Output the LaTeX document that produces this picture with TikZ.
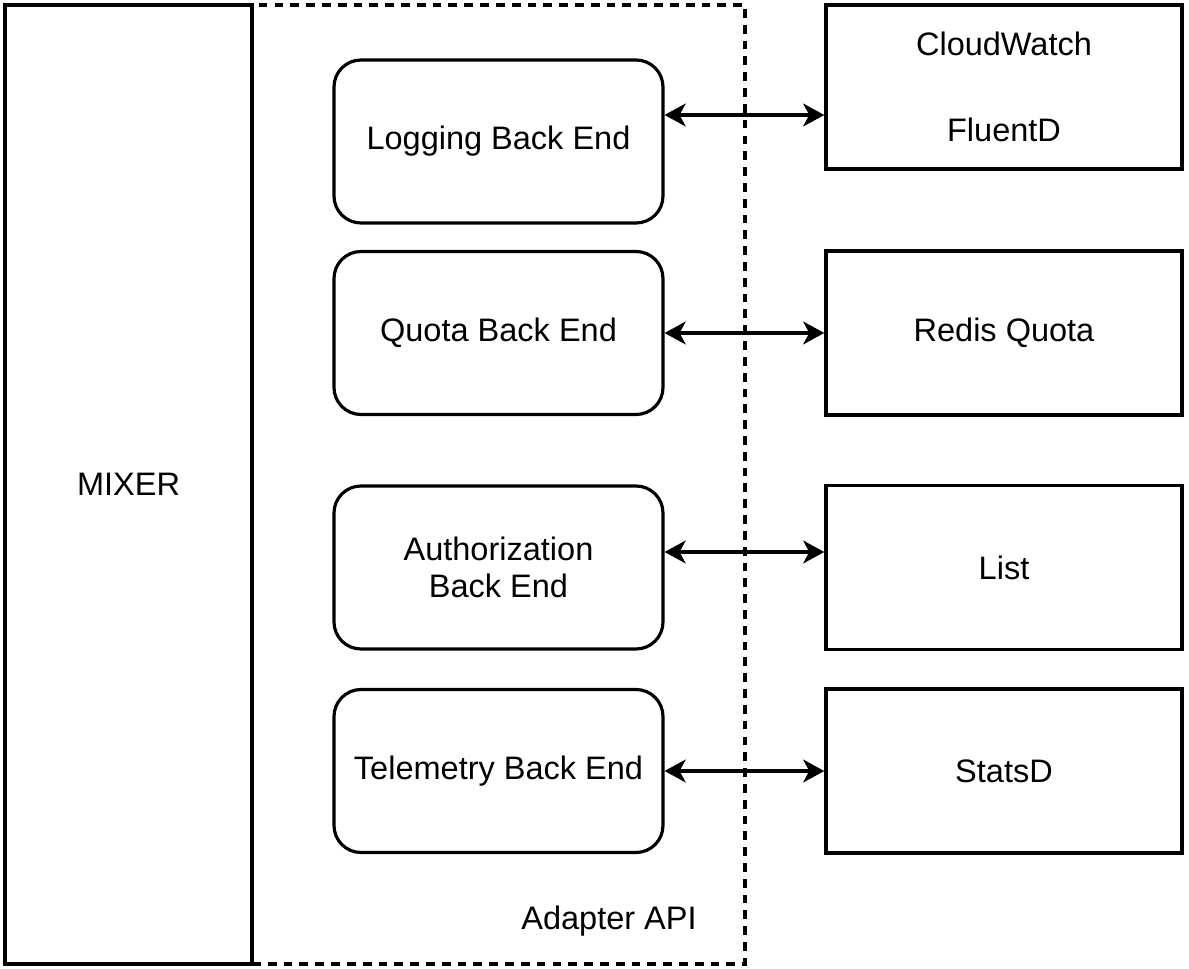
\documentclass[tikz,border=0pt]{standalone}
\usepackage{fontspec}
\setmainfont{Liberation Sans}
\usetikzlibrary{arrows.meta}

\begin{document}
\begin{tikzpicture}[
    box/.style={draw, line width=2pt, minimum width=7.12cm, minimum height=3.28cm, align=center},
    backend/.style={draw, line width=1.8pt, rounded corners=0.54cm, minimum width=6.58cm, minimum height=3.26cm, align=center},
    biarrow/.style={line width=1.9pt, {Stealth[length=12pt,width=13pt,inset=3.5pt]}-{Stealth[length=12pt,width=13pt,inset=3.5pt]}},
    every node/.style={font=\fontsize{18.5}{21}\selectfont}
]
    \useasboundingbox (0,0) rectangle (23.78,-19.38);

    % Adapter API und Mixer
    \node[draw, dashed, dash pattern=on 5pt off 4pt, line width=2pt, minimum width=9.86cm, minimum height=19.18cm] (adapter) at (9.97,-9.69) {};
    \node[draw, line width=2pt, minimum width=4.94cm, minimum height=19.18cm] (mixer) at (2.57,-9.69) {MIXER};
    \node (apilabel) at (12.18,-18.42) {Adapter API};

    % Back ends
    \node[backend] (log) at (9.97,-2.83) {Logging Back End};
    \node[backend] (quota) at (9.97,-6.66) {Quota Back End};
    \node[backend] (auth) at (9.97,-11.35) {Authorization\\Back End};
    \node[backend] (tele) at (9.97,-15.42) {Telemetry Back End};

    % Adapter
    \node[box] (cw) at (20.08,-1.74) {CloudWatch\\[28pt]FluentD};
    \node[box] (redis) at (20.08,-6.66) {Redis Quota};
    \node[box] (list) at (20.08,-11.35) {List};
    \node[box] (statsd) at (20.08,-15.42) {StatsD};

    % Pfeile
    \coordinate (logout) at ([yshift=5.3mm]log.east);
    \coordinate (authout) at ([yshift=3.1mm]auth.east);
    \draw[biarrow] (logout) -- (logout -| cw.west);
    \draw[biarrow] (quota.east) -- (redis.west);
    \draw[biarrow] (authout) -- (authout -| list.west);
    \draw[biarrow] (tele.east) -- (statsd.west);
\end{tikzpicture}
\end{document}
